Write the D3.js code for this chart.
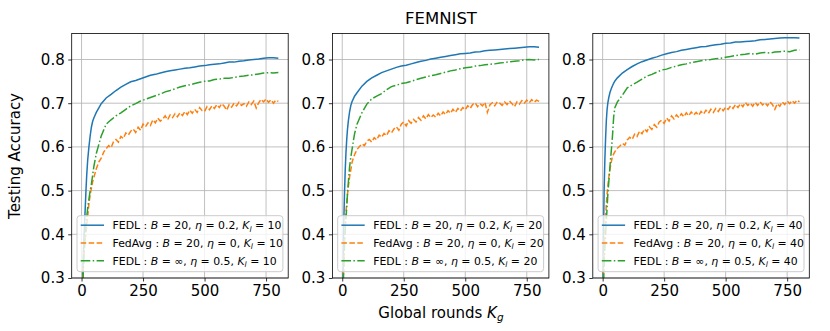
<!DOCTYPE html>
<html>
<head>
<meta charset="utf-8">
<script src="https://cdnjs.cloudflare.com/ajax/libs/d3/7.8.5/d3.min.js"></script>
<style>
  body { margin: 0; background: #fff; }
  svg { display: block; font-family: "DejaVu Sans", sans-serif; }
  .grid line { stroke: #b0b0b0; stroke-width: 0.8; }
  .tick text { fill: #000; }
</style>
</head>
<body>
<div id="chart"></div>
<script>
const roundsCoarse = [0, 3, 6, 9, 12, 15, 18, 21, 25, 30, 35, 40, 45, 50,
  60, 80, 100, 120, 140, 160, 180, 200, 220, 240, 260, 280, 300, 320, 340, 360, 380,
  400, 420, 440, 460, 480, 500, 520, 540, 560, 580, 600, 620, 640, 660, 680, 700,
  720, 740, 760, 780, 800];
const roundsFine = [0, 3, 6, 9, 12, 15, 18, 21, 25, 30, 35, 40, 45, 50, 55, 60,
  70, 80, 90, 100, 110, 120, 130, 140, 150, 160, 170, 180, 190, 200, 210, 220, 230,
  240, 250, 260, 270, 280, 290, 300, 310, 320, 330, 340, 350, 360, 370, 380, 390,
  400, 410, 420, 430, 440, 450, 460, 470, 480, 490, 500, 510, 520, 530, 540, 550,
  560, 570, 580, 590, 600, 610, 620, 630, 640, 650, 660, 670, 680, 690, 700, 710,
  720, 730, 740, 750, 760, 770, 780, 790, 800];

// K_l = 10
const fedlK10 = [0.15, 0.26, 0.33, 0.38, 0.42, 0.46, 0.5, 0.535, 0.57, 0.6, 0.625, 0.645, 0.658, 0.666,
  0.679, 0.699, 0.712, 0.72, 0.729, 0.737, 0.743, 0.749, 0.752, 0.756, 0.76, 0.764, 0.766, 0.769, 0.772,
  0.774, 0.776, 0.778, 0.78, 0.781, 0.783, 0.785, 0.786, 0.788, 0.789, 0.79, 0.792, 0.794, 0.794, 0.796,
  0.797, 0.799, 0.8, 0.801, 0.803, 0.804, 0.804, 0.803];
const fedlInfK10 = [0.15, 0.24, 0.3, 0.34, 0.37, 0.4, 0.42, 0.44, 0.46, 0.48, 0.5, 0.515, 0.535, 0.555,
  0.585, 0.625, 0.652, 0.662, 0.671, 0.678, 0.686, 0.694, 0.699, 0.705, 0.709, 0.713, 0.717, 0.721, 0.726,
  0.729, 0.733, 0.737, 0.74, 0.742, 0.745, 0.748, 0.75, 0.751, 0.754, 0.755, 0.757, 0.757, 0.759, 0.761,
  0.762, 0.764, 0.765, 0.767, 0.769, 0.77, 0.769, 0.77];
const fedavgK10 = [0.15, 0.25, 0.31, 0.35, 0.375, 0.39, 0.4, 0.42, 0.44, 0.47, 0.49, 0.505, 0.52, 0.53, 0.54, 0.55,
  0.565, 0.574, 0.588, 0.596, 0.603, 0.598, 0.612, 0.617, 0.611, 0.624, 0.619, 0.632, 0.627, 0.636, 0.641,
  0.633, 0.645, 0.638, 0.652, 0.646, 0.655, 0.649, 0.662, 0.655, 0.666, 0.659, 0.664, 0.671, 0.662, 0.673,
  0.667, 0.676, 0.669, 0.678, 0.672, 0.681, 0.674, 0.684, 0.677, 0.686, 0.679, 0.69, 0.683, 0.681, 0.692,
  0.685, 0.694, 0.688, 0.697, 0.69, 0.699, 0.693, 0.684, 0.697, 0.691, 0.7, 0.694, 0.702, 0.695, 0.699,
  0.693, 0.703, 0.697, 0.705, 0.689, 0.701, 0.709, 0.703, 0.71, 0.702, 0.708, 0.7, 0.707, 0.704];

// K_l = 20
const fedlK20 = [0.2, 0.3, 0.42, 0.49, 0.545, 0.585, 0.615, 0.638, 0.66, 0.681, 0.695, 0.704, 0.71, 0.716,
  0.724, 0.739, 0.75, 0.758, 0.764, 0.77, 0.774, 0.778, 0.782, 0.785, 0.787, 0.79, 0.793, 0.796, 0.798,
  0.801, 0.803, 0.805, 0.807, 0.809, 0.811, 0.813, 0.814, 0.815, 0.817, 0.818, 0.82, 0.821, 0.822, 0.823,
  0.824, 0.825, 0.826, 0.827, 0.828, 0.829, 0.829, 0.828];
const fedlInfK20 = [0.18, 0.26, 0.32, 0.37, 0.41, 0.435, 0.46, 0.49, 0.52, 0.555, 0.577, 0.595, 0.613, 0.63,
  0.652, 0.678, 0.698, 0.71, 0.716, 0.722, 0.731, 0.738, 0.741, 0.745, 0.747, 0.75, 0.754, 0.757, 0.76,
  0.763, 0.765, 0.768, 0.771, 0.774, 0.776, 0.779, 0.781, 0.782, 0.785, 0.786, 0.788, 0.789, 0.79, 0.792,
  0.793, 0.795, 0.796, 0.797, 0.799, 0.8, 0.799, 0.8];
const fedavgK20 = [0.18, 0.27, 0.33, 0.38, 0.42, 0.45, 0.47, 0.49, 0.51, 0.532, 0.548, 0.565, 0.574, 0.582, 0.588, 0.594,
  0.601, 0.607, 0.603, 0.613, 0.617, 0.611, 0.621, 0.616, 0.627, 0.622, 0.631, 0.626, 0.637, 0.632, 0.641,
  0.646, 0.638, 0.652, 0.657, 0.648, 0.66, 0.654, 0.663, 0.657, 0.667, 0.661, 0.671, 0.664, 0.674, 0.667,
  0.673, 0.668, 0.677, 0.671, 0.68, 0.674, 0.683, 0.677, 0.686, 0.679, 0.688, 0.682, 0.69, 0.685, 0.694,
  0.688, 0.697, 0.701, 0.692, 0.699, 0.694, 0.702, 0.679, 0.696, 0.701, 0.694, 0.703, 0.7, 0.695, 0.703,
  0.697, 0.705, 0.699, 0.692, 0.703, 0.698, 0.706, 0.7, 0.707, 0.701, 0.708, 0.702, 0.707, 0.704];

// K_l = 40
const fedlK40 = [0.2, 0.38, 0.5, 0.57, 0.62, 0.66, 0.685, 0.7, 0.713, 0.725, 0.733, 0.74, 0.746, 0.751,
  0.758, 0.769, 0.777, 0.784, 0.79, 0.795, 0.799, 0.803, 0.806, 0.81, 0.813, 0.816, 0.818, 0.821, 0.823,
  0.825, 0.827, 0.829, 0.83, 0.832, 0.834, 0.835, 0.837, 0.838, 0.84, 0.84, 0.841, 0.842, 0.843, 0.845,
  0.846, 0.847, 0.848, 0.849, 0.85, 0.85, 0.85, 0.849];
const fedlInfK40 = [0.18, 0.27, 0.33, 0.37, 0.4, 0.43, 0.46, 0.49, 0.52, 0.557, 0.59, 0.625, 0.67, 0.69,
  0.703, 0.718, 0.735, 0.742, 0.748, 0.755, 0.762, 0.766, 0.771, 0.776, 0.778, 0.782, 0.785, 0.788, 0.79,
  0.793, 0.795, 0.797, 0.799, 0.8, 0.802, 0.803, 0.805, 0.807, 0.809, 0.811, 0.812, 0.814, 0.812, 0.815,
  0.816, 0.815, 0.817, 0.818, 0.819, 0.818, 0.821, 0.822];
const fedavgK40 = [0.2, 0.3, 0.36, 0.41, 0.44, 0.47, 0.49, 0.51, 0.53, 0.55, 0.565, 0.578, 0.584, 0.589, 0.594, 0.597,
  0.602, 0.608, 0.604, 0.616, 0.622, 0.617, 0.629, 0.624, 0.636, 0.63, 0.641, 0.635, 0.646, 0.64, 0.651,
  0.645, 0.657, 0.661, 0.654, 0.666, 0.659, 0.671, 0.664, 0.673, 0.667, 0.676, 0.669, 0.678, 0.671, 0.68,
  0.673, 0.679, 0.672, 0.681, 0.675, 0.684, 0.677, 0.686, 0.679, 0.688, 0.681, 0.69, 0.683, 0.691, 0.686,
  0.694, 0.688, 0.697, 0.69, 0.699, 0.692, 0.702, 0.695, 0.7, 0.693, 0.702, 0.695, 0.703, 0.696, 0.701,
  0.694, 0.703, 0.697, 0.686, 0.699, 0.693, 0.703, 0.697, 0.705, 0.699, 0.706, 0.7, 0.707, 0.703];

const localRounds = [10, 20, 40];
const xTicks = [0, 250, 500, 750];
const yTicks = [0.3, 0.4, 0.5, 0.6, 0.7, 0.8];

// Figure layout
const width = 830;
const height = 331;
const panelLefts = [71.7, 332.4, 592.8];
const panelWidth = 216.5;
const plotTop = 33.5;
const plotBottom = 278;
const tickFont = 15;
const legendFont = 10.9;

const colors = { fedl: '#1f77b4', fedavg: '#ff7f0e', inf: '#2ca02c' };

const svg = d3.select('#chart').append('svg')
  .attr('width', width)
  .attr('height', height);

const yScale = d3.scaleLinear()
  .domain([0.3, 0.3 + (plotBottom - plotTop) / 437])
  .range([plotBottom, plotTop]);

function panelSeries(i) {
  const sets = [
    [fedlK10, fedavgK10, fedlInfK10],
    [fedlK20, fedavgK20, fedlInfK20],
    [fedlK40, fedavgK40, fedlInfK40],
  ][i];
  const k = localRounds[i];
  return [
    { key: 'fedl', rounds: roundsCoarse, values: sets[0], dash: null,
      label: [['FEDL : '], ['B', 'i'], [' = 20, '], ['η', 'i'], [' = 0.2, '], ['K', 'i'], ['l', 's'], [' = ' + k]] },
    { key: 'fedavg', rounds: roundsFine, values: sets[1], dash: '5.55,2.4',
      label: [['FedAvg : '], ['B', 'i'], [' = 20, '], ['η', 'i'], [' = 0, '], ['K', 'i'], ['l', 's'], [' = ' + k]] },
    { key: 'inf', rounds: roundsCoarse, values: sets[2], dash: '9.6,2.4,1.5,2.4',
      label: [['FEDL : '], ['B', 'i'], [' = ∞, '], ['η', 'i'], [' = 0.5, '], ['K', 'i'], ['l', 's'], [' = ' + k]] },
  ];
}

function writeRich(text, parts, size) {
  let inSub = false;
  parts.forEach(([t, style]) => {
    const span = text.append('tspan').text(t);
    if (style === 'i') span.attr('font-style', 'italic');
    if (style === 's') {
      span.attr('font-style', 'italic').attr('font-size', size * 0.7).attr('dy', size * 0.22);
    } else if (inSub) {
      span.attr('dy', -size * 0.22);
    }
    inSub = style === 's';
  });
}

panelLefts.forEach((left, i) => {
  const xScale = d3.scaleLinear()
    .domain([-40, 840])
    .range([left, left + panelWidth]);

  const g = svg.append('g');

  // grid
  g.append('g').attr('class', 'grid')
    .selectAll('line').data(xTicks).join('line')
    .attr('x1', d => xScale(d)).attr('x2', d => xScale(d))
    .attr('y1', plotTop).attr('y2', plotBottom);
  g.append('g').attr('class', 'grid')
    .selectAll('line').data(yTicks).join('line')
    .attr('x1', left).attr('x2', left + panelWidth)
    .attr('y1', d => yScale(d)).attr('y2', d => yScale(d));

  // lines
  const clipId = 'clip' + i;
  svg.append('clipPath').attr('id', clipId)
    .append('rect')
    .attr('x', left).attr('y', plotTop)
    .attr('width', panelWidth).attr('height', plotBottom - plotTop);

  const line = d3.line()
    .x(d => xScale(d[0]))
    .y(d => yScale(d[1]));

  const series = panelSeries(i);
  series.forEach(s => {
    g.append('path')
      .attr('clip-path', `url(#${clipId})`)
      .attr('d', line(s.rounds.map((r, j) => [r, s.values[j]])))
      .attr('fill', 'none')
      .attr('stroke', colors[s.key])
      .attr('stroke-width', 1.5)
      .attr('stroke-dasharray', s.dash);
  });

  // axes
  const xAxis = d3.axisBottom(xScale).tickValues(xTicks).tickSize(3.5).tickPadding(3.5);
  const yAxis = d3.axisLeft(yScale).tickValues(yTicks).tickSize(3.5).tickPadding(3.5)
    .tickFormat(d3.format('.1f'));

  const gx = g.append('g')
    .attr('transform', `translate(0,${plotBottom})`)
    .call(xAxis);
  const gy = g.append('g')
    .attr('transform', `translate(${left},0)`)
    .call(yAxis);
  [gx, gy].forEach(a => {
    a.select('.domain').remove();
    a.selectAll('.tick line').attr('stroke', '#000').attr('stroke-width', 0.8);
    a.selectAll('.tick text').attr('font-size', tickFont).attr('font-family', 'DejaVu Sans');
  });

  // frame
  g.append('rect')
    .attr('x', left).attr('y', plotTop)
    .attr('width', panelWidth).attr('height', plotBottom - plotTop)
    .attr('fill', 'none')
    .attr('stroke', '#000')
    .attr('stroke-width', 0.8);

  // legend
  const lx = left + 5.3;
  const ly = 215.7;
  const legend = g.append('g');
  legend.append('rect')
    .attr('x', lx).attr('y', ly)
    .attr('width', panelWidth - 10.6).attr('height', 56)
    .attr('rx', 3)
    .attr('fill', '#fff').attr('fill-opacity', 0.8)
    .attr('stroke', '#cccccc').attr('stroke-width', 1);
  series.forEach((s, j) => {
    const yRow = ly + 9.5 + j * 17.8;
    legend.append('line')
      .attr('x1', lx + 3.7).attr('x2', lx + 27)
      .attr('y1', yRow).attr('y2', yRow)
      .attr('stroke', colors[s.key])
      .attr('stroke-width', 1.5)
      .attr('stroke-dasharray', s.dash);
    const t = legend.append('text')
      .attr('x', lx + 35.5).attr('y', yRow + 4.1)
      .attr('font-size', legendFont);
    writeRich(t, s.label, legendFont);
  });
});

// title and axis labels
svg.append('text')
  .attr('x', 441).attr('y', 24)
  .attr('text-anchor', 'middle')
  .attr('font-size', 16.5)
  .text('FEMNIST');

svg.append('text')
  .attr('transform', 'translate(19.5,156) rotate(-90)')
  .attr('text-anchor', 'middle')
  .attr('font-size', tickFont)
  .text('Testing Accuracy');

const xl = svg.append('text')
  .attr('x', 441).attr('y', 317.5)
  .attr('text-anchor', 'middle')
  .attr('font-size', tickFont);
writeRich(xl, [['Global rounds '], ['K', 'i'], ['g', 's']], tickFont);
</script>
</body>
</html>
